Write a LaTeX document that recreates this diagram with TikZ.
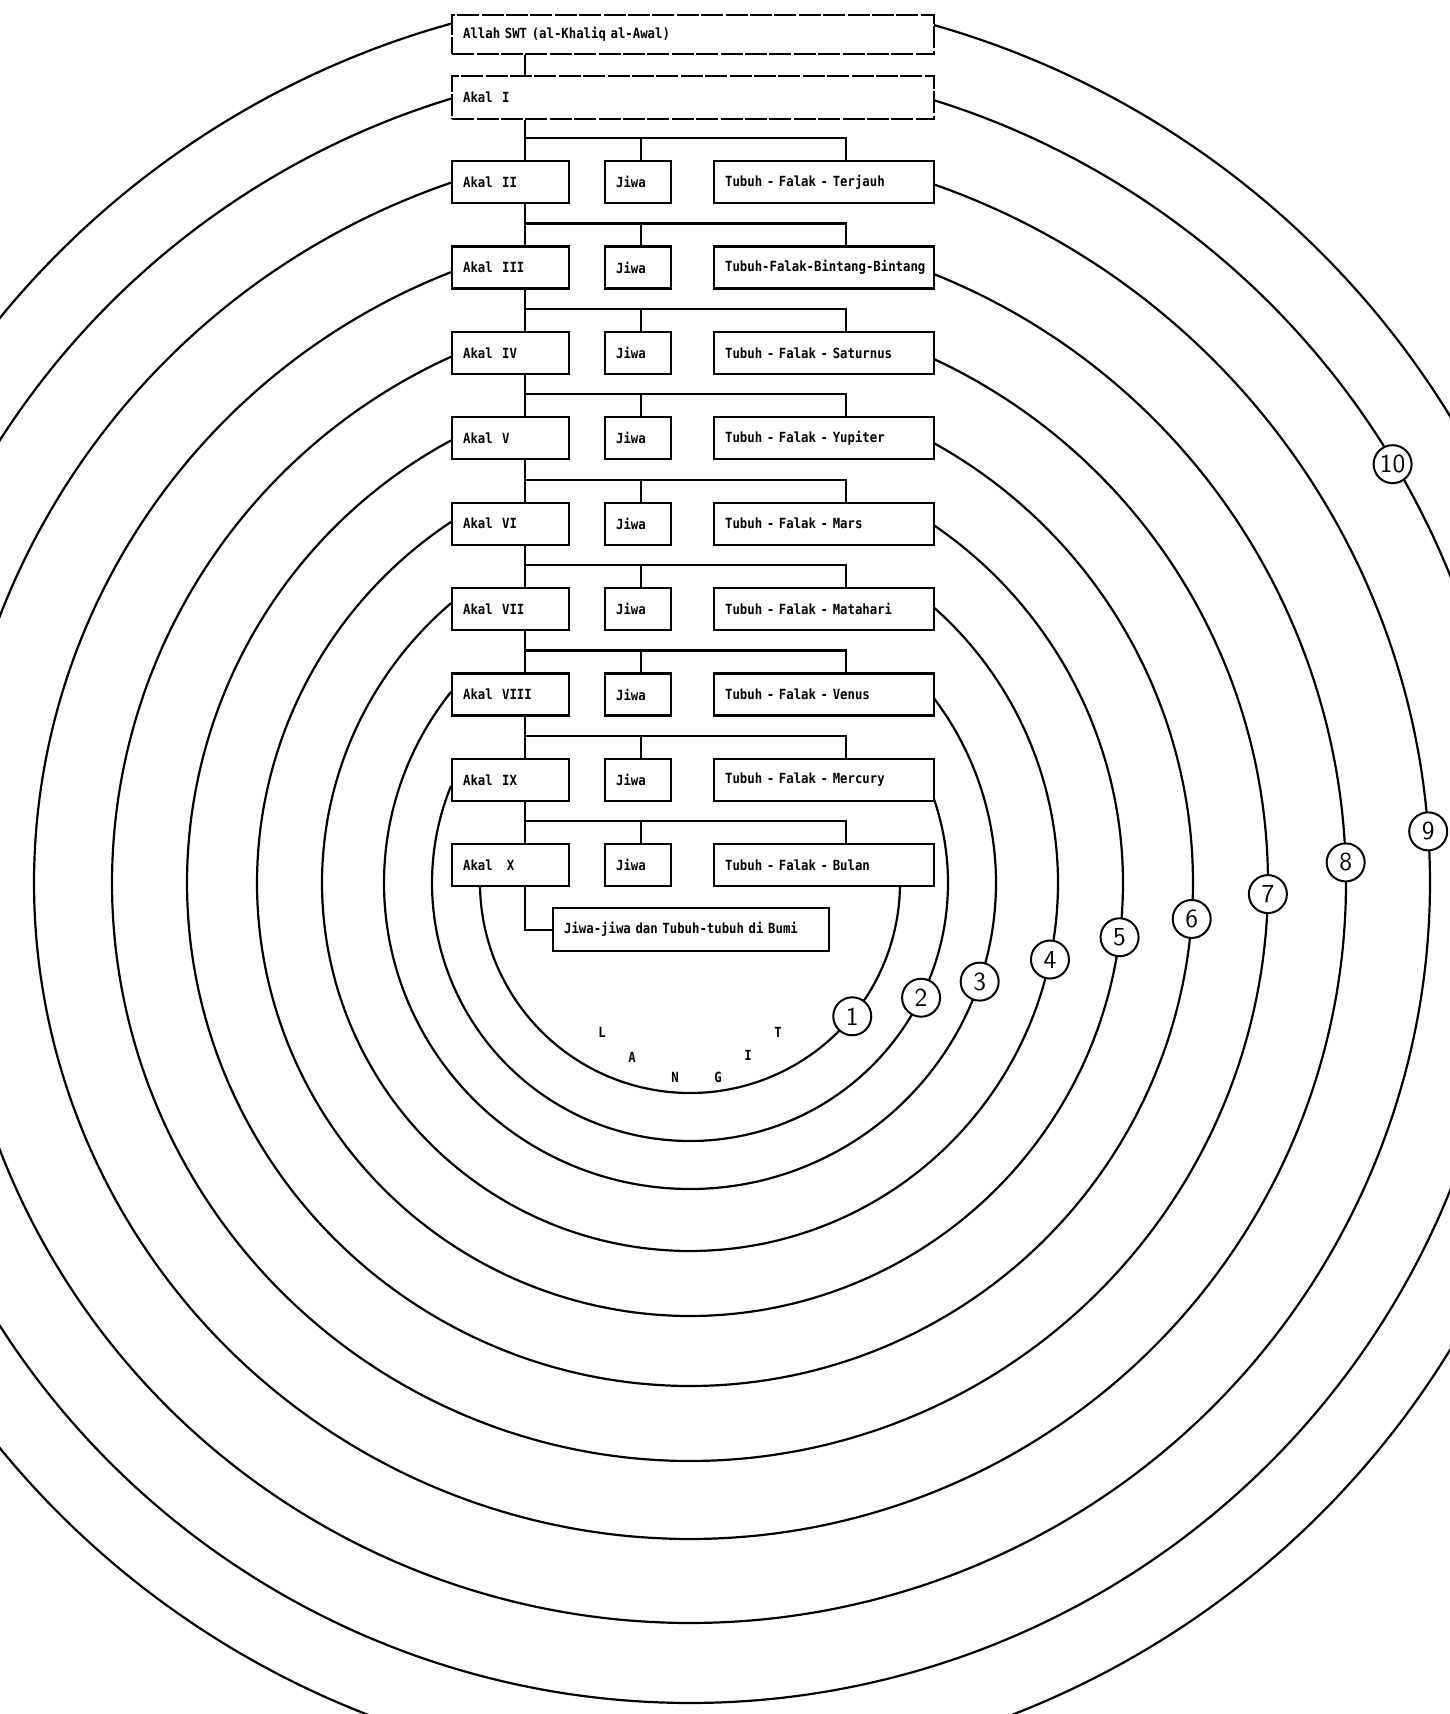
\documentclass[tikz,border=0pt]{standalone}
\usepackage{fontspec}
\newfontfamily\dotfont[FakeStretch=0.88]{DejaVu Sans Mono}
\tikzset{
  px/.style={x=0.5pt,y=-0.5pt},
  boxbase/.style={draw, line width=1.1pt, fill=white, anchor=north west, inner xsep=5.5pt, inner ysep=0pt, align=left, font=\dotfont\bfseries\fontsize{7}{8}\selectfont},
  printdash/.style={dash pattern=on 11pt off 1.2pt},
  arcline/.style={line width=1.1pt},
  conn/.style={line width=1.1pt},
  lbl/.style={circle, draw, line width=1pt, fill=white, minimum size=19pt, inner sep=0pt, font=\sffamily\fontsize{13}{13}\selectfont},
  lang/.style={font=\dotfont\bfseries\fontsize{7}{8}\selectfont, inner sep=0pt},
}
\begin{document}
\begin{tikzpicture}[px]
\fill[white] (0,0) rectangle (1450,1714);
\useasboundingbox (0,0) rectangle (1450,1714);
\clip (0,0) rectangle (1450,1714);
% concentric spheres
\foreach \rad/\aa/\bb in {892/-74.19/254.46, 820/-72.76/253.05, 740/-70.83/251.16, 656/-68.26/248.63, 578/-65.14/245.57, 503/-61.11/241.63, 433/-55.86/236.50, 368/-48.68/229.50, 306/-37.43/218.65, 258/-19.63/202.13, 210/0.6/179.4}{
  \draw[arcline] plot[domain=\aa:\bb, samples=240, smooth] ({690+\rad*cos(\x)},{883+\rad*sin(\x)});
}
% helper x positions
\coordinate (bx) at (525,0);
\coordinate (jx) at (641,0);
\coordinate (tx) at (846,0);
% top boxes
\node[boxbase, printdash, minimum height=19.5pt, text width=230pt] (allah) at (451,14) {\mbox{Allah SWT (al-Khaliq al-Awal)}};
\node[boxbase, printdash, minimum height=21.5pt, text width=230pt] (akal1) at (451,75) {\mbox{Akal~~I}};
\draw[conn] (allah.south -| bx) -- (akal1.north -| bx);
% rows
\foreach \k/\rom/\tub in {2/II/Tubuh - Falak - Terjauh, 3/III/Tubuh-Falak-Bintang-Bintang, 4/IV/Tubuh - Falak - Saturnus, 5/V/Tubuh - Falak - Yupiter, 6/VI/Tubuh - Falak - Mars, 7/VII/Tubuh - Falak - Matahari, 8/VIII/Tubuh - Falak - Venus, 9/IX/Tubuh - Falak - Mercury, 10/{~X}/Tubuh - Falak - Bulan}{
  \pgfmathsetmacro\rowt{160+85.4*(\k-2)}
  \pgfmathtruncatemacro\pp{\k-1}
  \node[boxbase, minimum height=21pt, text width=47.5pt] (akal\k) at (451,\rowt) {\mbox{Akal~~\rom}};
  \node[boxbase, minimum height=21pt, text width=22pt] (jiwa\k) at (604,\rowt) {\mbox{Jiwa}};
  \node[boxbase, minimum height=21pt, text width=99pt] (tubuh\k) at (713,\rowt) {\mbox{\tub}};
  \draw[conn] (akal\pp.south -| bx) -- (akal\k.north -| bx);
  \draw[conn] (akal\k.north -| bx) ++(0,-22) -| (jiwa\k.north -| jx);
  \draw[conn] (akal\k.north -| bx) ++(0,-22) -| (tubuh\k.north -| tx);
}
\node[boxbase, minimum height=21.5pt, text width=127pt] (bumi) at (552,907) {\mbox{Jiwa-jiwa dan Tubuh-tubuh di Bumi}};
\draw[conn] (akal10.south -| bx) |- (bumi.west);
% LANGIT
\node[lang] (lL) at (602,1032) {L};
\node[lang] (lA) at (632,1057) {A};
\node[lang] (lN) at (675,1077) {N};
\node[lang] (lG) at (718,1077) {G};
\node[lang] (lI) at (748,1055) {I};
\node[lang] (lT) at (778,1032) {T};
% sphere labels
\foreach \n/\rad/\ang in {1/210/39.4, 2/258/26.4, 3/306/18.8, 4/368/12, 5/433/7.2, 6/503/4.1, 7/578/1.1, 8/656/-1.8, 9/740/-4, 10/818/-30.8}{
  \node[lbl] (n\n) at ({690+\rad*cos(\ang)},{883+\rad*sin(\ang)}) {\n};
}
\end{tikzpicture}
\end{document}
